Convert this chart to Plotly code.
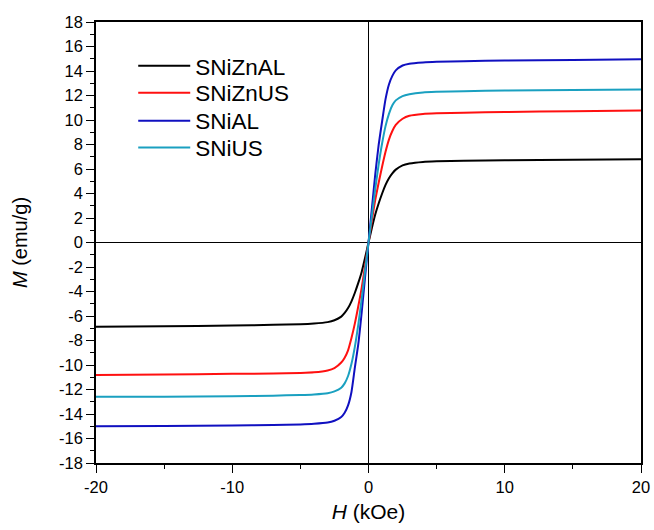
import plotly.graph_objects as go

H = [-20, -15, -10, -7, -5, -4, -3, -2.5, -2, -1.75, -1.5, -1.25, -1, -0.75, -0.5, -0.25,
     0, 0.25, 0.5, 0.75, 1, 1.25, 1.5, 1.75, 2, 2.5, 3, 4, 5, 7, 10, 15, 20]

M_SNiZnAL = [-6.88, -6.83, -6.78, -6.72, -6.68, -6.62, -6.5, -6.35, -6.05, -5.75, -5.35, -4.8, -4.1, -3.3, -2.4, -1.25,
             0, 1.2, 2.3, 3.2, 4.0, 4.7, 5.25, 5.65, 5.95, 6.3, 6.45, 6.58, 6.63, 6.68, 6.72, 6.76, 6.8]
M_SNiZnUS = [-10.82, -10.78, -10.72, -10.7, -10.65, -10.6, -10.45, -10.25, -9.8, -9.4, -8.8, -7.8, -6.6, -5.2, -3.7, -1.9,
             0, 1.8, 3.5, 4.9, 6.2, 7.4, 8.4, 9.1, 9.6, 10.1, 10.35, 10.5, 10.55, 10.6, 10.65, 10.72, 10.78]
M_SNiAL = [-15.0, -14.97, -14.93, -14.9, -14.85, -14.8, -14.7, -14.55, -14.25, -13.9, -13.3, -12.2, -10.2, -8.3, -5.7, -2.8,
           0, 2.8, 5.6, 8.0, 9.9, 11.7, 12.9, 13.6, 14.05, 14.45, 14.6, 14.7, 14.75, 14.8, 14.85, 14.9, 14.95]
M_SNiUS = [-12.6, -12.6, -12.55, -12.5, -12.45, -12.4, -12.3, -12.15, -11.85, -11.5, -10.9, -9.9, -8.5, -6.7, -4.6, -2.3,
           0, 2.2, 4.4, 6.4, 8.1, 9.5, 10.5, 11.2, 11.6, 11.95, 12.1, 12.25, 12.3, 12.35, 12.4, 12.45, 12.5]

series = [
    ("SNiZnAL", M_SNiZnAL, "#000000"),
    ("SNiZnUS", M_SNiZnUS, "#ff1010"),
    ("SNiAL", M_SNiAL, "#1010c0"),
    ("SNiUS", M_SNiUS, "#1aa0c0"),
]

x_ticks = [-20, -10, 0, 10, 20]
y_ticks = list(range(-18, 19, 2))

FONT = "Arial, Liberation Sans, Helvetica, sans-serif"

# legend row centres (paper coordinates), one single-entry legend per series
legend_rows = [0.900, 0.839, 0.7755, 0.7143]
legend_ids = ["legend", "legend2", "legend3", "legend4"]

fig = go.Figure()
for (name, m, color), lid in zip(series, legend_ids):
    fig.add_trace(go.Scatter(x=H, y=m, mode="lines", name=name, legend=lid, showlegend=True,
                             line=dict(color=color, width=2, shape="spline", smoothing=0.6)))

axis_common = dict(
    showline=True, linecolor="black", linewidth=1.5, mirror=True,
    ticks="outside", ticklen=8, tickwidth=1.3, tickcolor="black",
    showgrid=False, zeroline=True, zerolinecolor="black", zerolinewidth=1.3,
    tickfont=dict(family=FONT, size=16.5, color="black"),
    automargin=False,
)

fig.update_xaxes(range=[-20, 20], tickvals=x_ticks, ticktext=[str(v) for v in x_ticks],
                 minor=dict(dtick=5, ticks="outside", ticklen=4, tickwidth=1.2, tickcolor="black"),
                 title=dict(text="<i>H</i> (kOe)", font=dict(family=FONT, size=21, color="black"), standoff=10),
                 **axis_common)
fig.update_yaxes(range=[-18, 18], tickvals=y_ticks, ticktext=[str(v) for v in y_ticks],
                 minor=dict(dtick=1, ticks="outside", ticklen=4, tickwidth=1.2, tickcolor="black"),
                 title=dict(text="<i>M</i> (emu/g)", font=dict(family=FONT, size=20, color="black"), standoff=26),
                 **axis_common)

legend_style = dict(x=0.0683, xanchor="left", yanchor="middle",
                    font=dict(family=FONT, size=22.5, color="black"),
                    bgcolor="rgba(0,0,0,0)", itemwidth=52)
layout_legends = {lid: dict(y=yy, **legend_style) for lid, yy in zip(legend_ids, legend_rows)}

fig.update_layout(
    width=654, height=530,
    margin=dict(l=96, r=13, t=22, b=67),
    paper_bgcolor="white", plot_bgcolor="white",
    font=dict(family=FONT, color="black"),
    showlegend=True,
    **layout_legends,
)

fig.write_html("out.html")
